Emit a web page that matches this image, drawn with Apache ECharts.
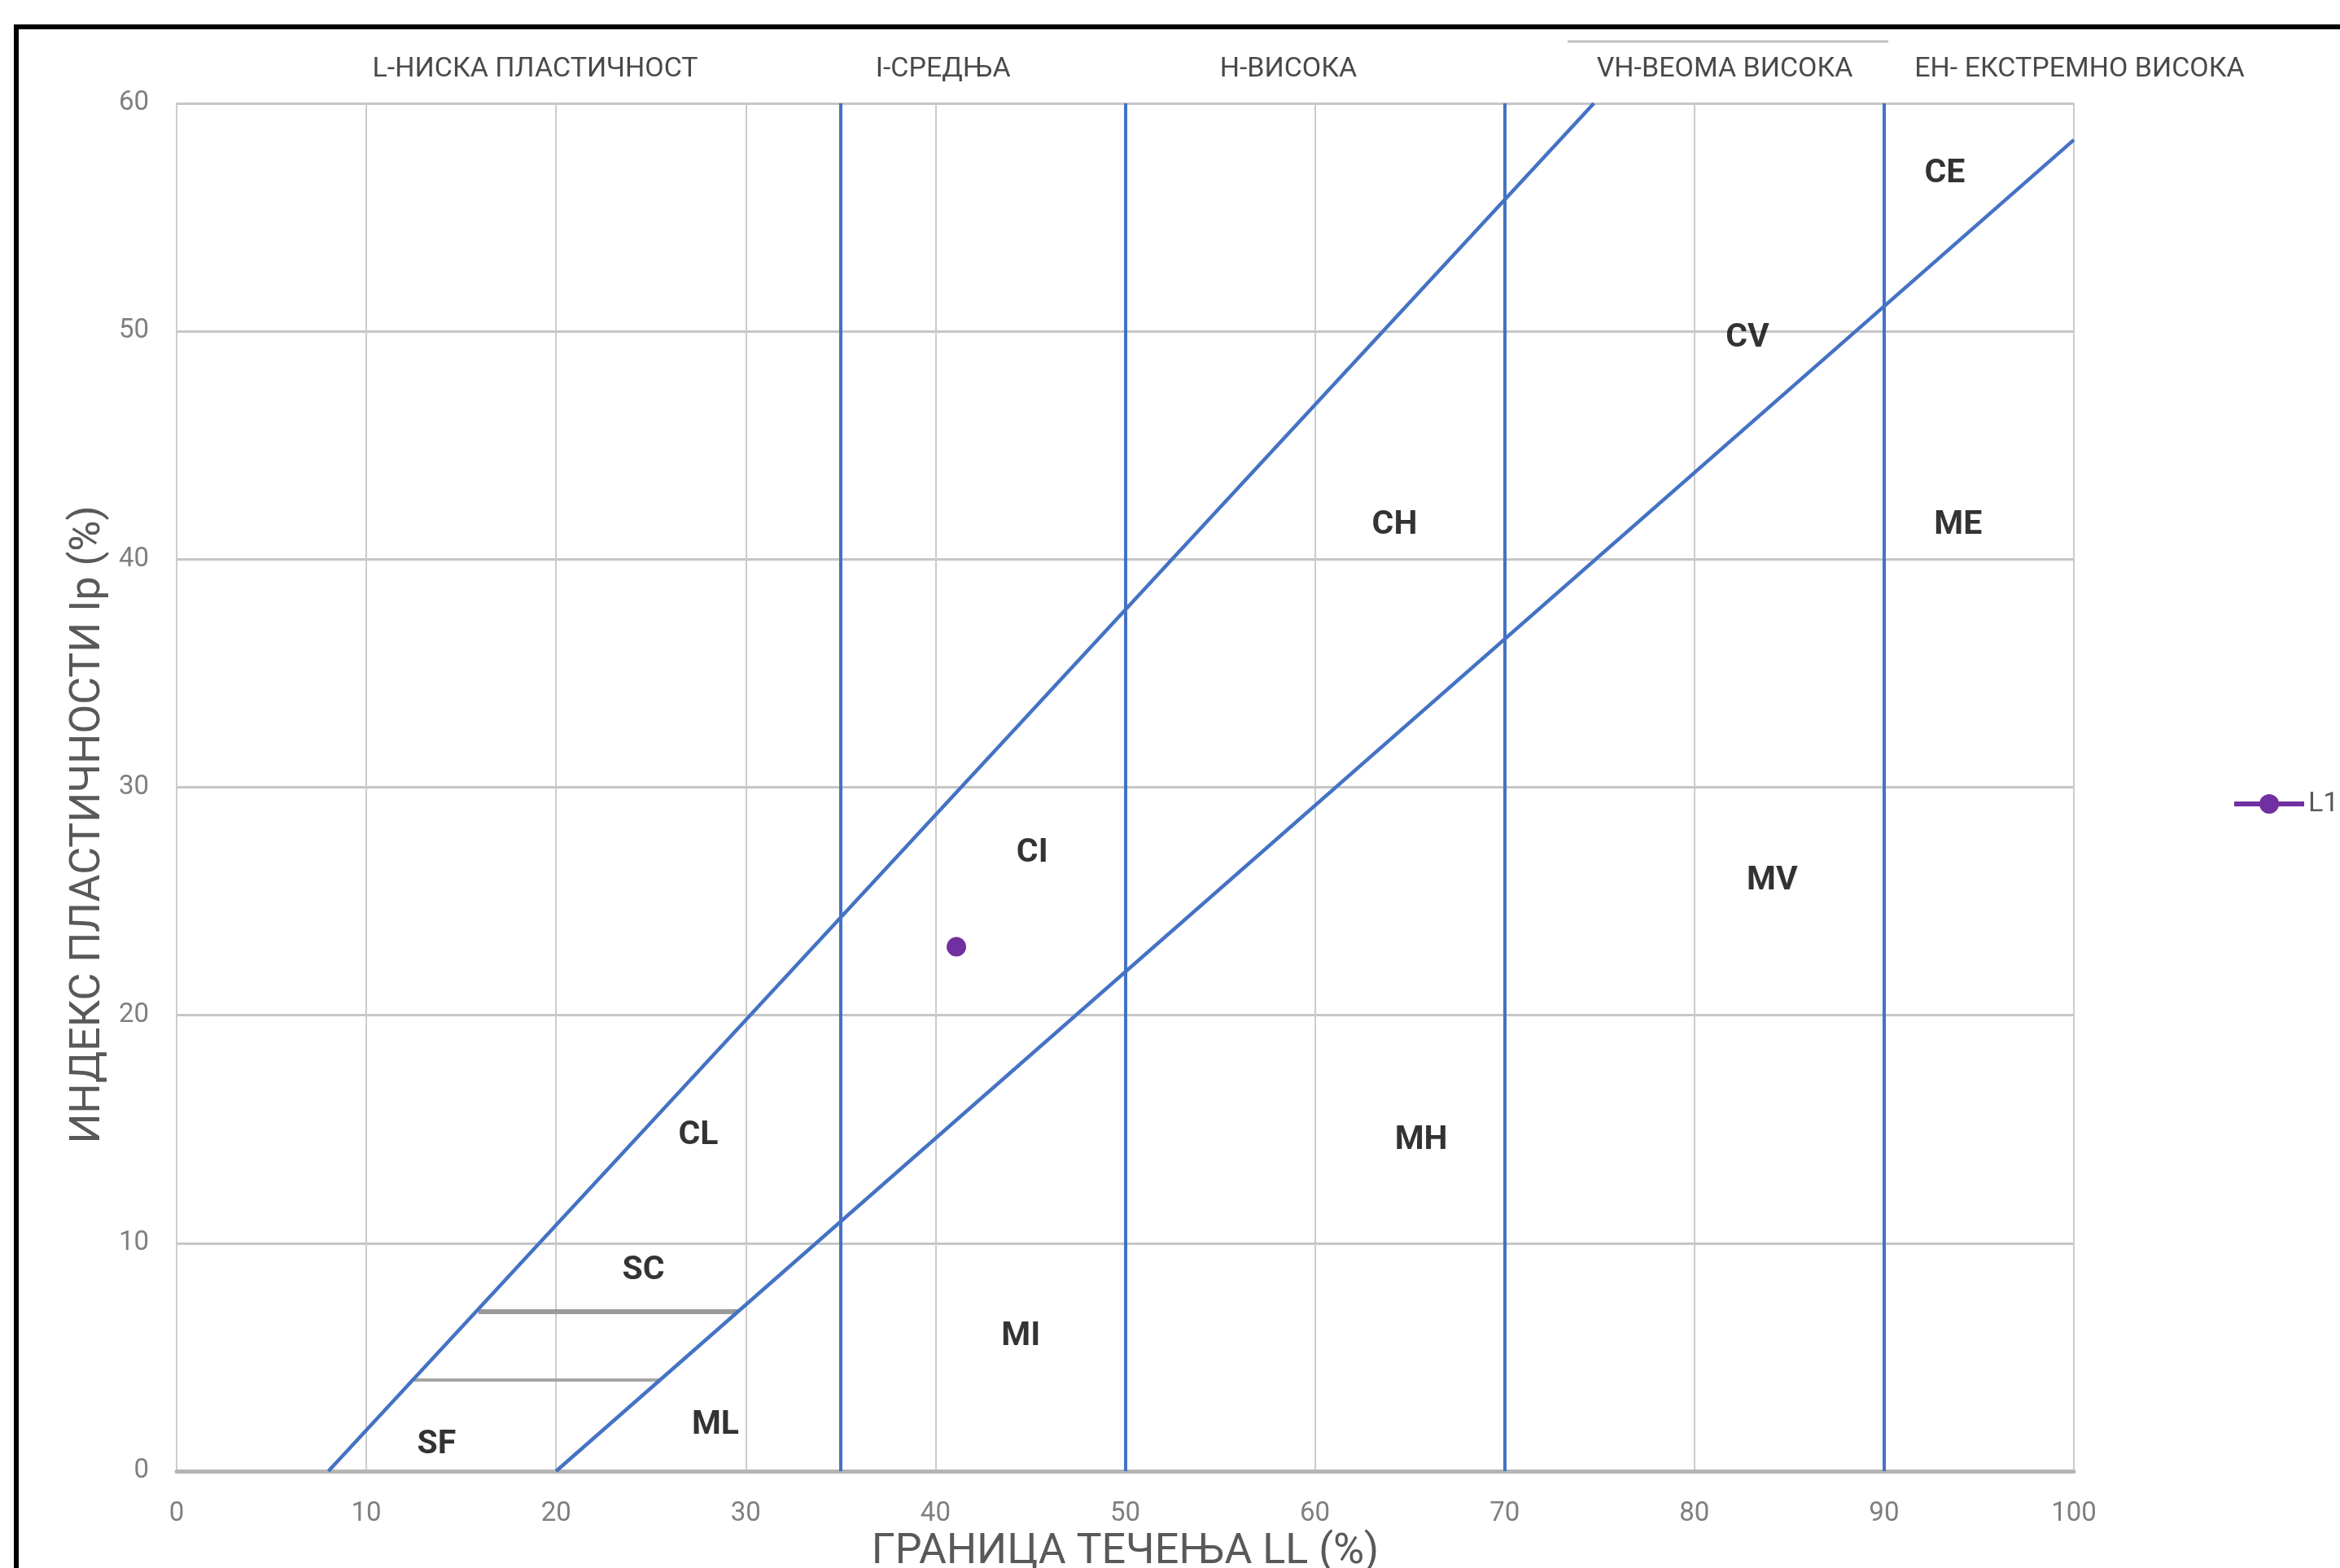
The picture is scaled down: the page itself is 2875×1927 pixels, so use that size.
<!DOCTYPE html>
<html>
<head>
<meta charset="utf-8">
<script src="https://cdn.jsdelivr.net/npm/echarts@6/dist/echarts.min.js"></script>
<style>
  html, body { margin: 0; padding: 0; background: #fff; }
  #chart { width: 2875px; height: 1927px; }
</style>
</head>
<body>
<div id="chart"></div>
<script>
// ---- Data ----
const xAxisName = 'ГРАНИЦА ТЕЧЕЊА LL (%)';
const yAxisName = 'ИНДЕКС ПЛАСТИЧНОСТИ Ip (%)';

// Boundary lines (LL, Ip)
const uLine = [[8, 0], [74.7, 60]];
const aLine = [[20, 0], [100, 58.4]];
const ip7Line = [[15.9, 7], [29.6, 7]];
const ip4Line = [[12.5, 4], [25.5, 4]];
const zoneBounds = [35, 50, 70, 90];

// Sample point
const l1Data = [[41.1, 23.0]];

// Plasticity zone names (top)
const zoneNames = ['L-НИСКА ПЛАСТИЧНОСТ', 'I-СРЕДЊА', 'H-ВИСОКА', 'VH-ВЕОМА ВИСОКА', 'EH- ЕКСТРЕМНО ВИСОКА'];
const zoneNameX = [18.9, 40.4, 58.6, 81.6, 100.3];

// Soil class labels
const soilNames = ['CL', 'SC', 'SF', 'ML', 'MI', 'CI', 'MH', 'CH', 'CV', 'MV', 'CE', 'ME'];
const soilX = [27.5, 24.6, 13.7, 28.4, 44.5, 45.1, 65.6, 64.2, 82.8, 84.1, 93.2, 93.9];
const soilY = [14.7, 8.8, 1.15, 2.0, 5.9, 27.1, 14.5, 41.5, 49.7, 25.9, 56.9, 41.5];

// ---- Chart ----
const chart = echarts.init(document.getElementById('chart'));
const BLUE = '#4472C4';
const FONT = 'Roboto';

const option = {
  animation: false,
  backgroundColor: '#ffffff',
  grid: { left: 217, right: 327, top: 127, bottom: 119, containLabel: false, outerBoundsMode: 'none' },
  legend: {
    data: ['L1'],
    left: 2737, top: 966,
    itemWidth: 86, itemHeight: 30, itemGap: 10,
    lineStyle: { width: 6 },
    textStyle: { fontFamily: FONT, fontSize: 34, color: '#595959' }
  },
  graphic: [
    { type: 'rect', z: 100, shape: { x: 20, y: 33, width: 3000, height: 3000 },
      style: { fill: 'none', stroke: '#000', lineWidth: 6 } },
    { type: 'line', z: 100, shape: { x1: 1926, y1: 51, x2: 2320, y2: 51 },
      style: { stroke: '#bfbfbf', lineWidth: 3 } }
  ],
  xAxis: {
    type: 'value', min: 0, max: 100, interval: 10,
    name: xAxisName, nameLocation: 'middle', nameGap: 70,
    nameTextStyle: { fontFamily: FONT, fontSize: 52, color: '#595959' },
    axisLine: { show: true, lineStyle: { color: '#b4b4b4', width: 5 } },
    axisTick: { show: false },
    axisLabel: { margin: 36, fontFamily: FONT, fontSize: 33, color: '#7f7f7f' },
    splitLine: { show: true, lineStyle: { color: '#cccccc', width: 2 } }
  },
  yAxis: {
    type: 'value', min: 0, max: 60, interval: 10,
    name: yAxisName, nameLocation: 'middle', nameGap: 77,
    nameTextStyle: { fontFamily: FONT, fontSize: 52, color: '#595959', padding: [0, 92, 0, 0] },
    axisLine: { show: true, lineStyle: { color: '#cccccc', width: 2 } },
    axisTick: { show: false },
    axisLabel: { margin: 34, fontFamily: FONT, fontSize: 33, color: '#7f7f7f' },
    splitLine: { show: true, lineStyle: { color: '#c6c6c6', width: 3 } }
  },
  series: [
    {
      name: 'zones', type: 'line', data: [], silent: true,
      markLine: {
        silent: true, symbol: 'none', animation: false,
        label: { show: false },
        lineStyle: { color: BLUE, width: 4, type: 'solid' },
        data: zoneBounds.map(v => ({ xAxis: v }))
      }
    },
    { name: 'U', type: 'line', data: uLine, showSymbol: false, silent: true,
      lineStyle: { color: BLUE, width: 4.5 }, z: 3 },
    { name: 'A', type: 'line', data: aLine, showSymbol: false, silent: true,
      lineStyle: { color: BLUE, width: 4.5 }, z: 3 },
    { name: 'ip7', type: 'line', data: ip7Line, showSymbol: false, silent: true,
      lineStyle: { color: '#9a9a9a', width: 6 }, z: 2 },
    { name: 'ip4', type: 'line', data: ip4Line, showSymbol: false, silent: true,
      lineStyle: { color: '#a6a6a6', width: 4 }, z: 2 },
    {
      name: 'soil', type: 'scatter', silent: true, symbolSize: 1,
      itemStyle: { color: 'transparent' },
      data: soilNames.map((n, i) => [soilX[i], soilY[i], n]),
      label: { show: true, position: 'inside', formatter: p => p.data[2],
        fontFamily: FONT, fontWeight: 'bold', fontSize: 41, color: '#000' }, z: 4
    },
    {
      name: 'zoneNames', type: 'scatter', silent: true, symbolSize: 1, clip: false,
      itemStyle: { color: 'transparent' },
      data: zoneNameX.map((x, i) => [x, 60, zoneNames[i]]),
      label: { show: true, position: 'top', distance: 24, formatter: p => p.data[2],
        fontFamily: FONT, fontSize: 34, color: '#1a1a1a' }, z: 4
    },
    {
      name: 'L1', type: 'line', data: l1Data, showSymbol: true, symbol: 'circle', symbolSize: 24,
      itemStyle: { color: '#7030A0' }, lineStyle: { color: '#7030A0', width: 6 }, z: 10
    }
  ]
};
chart.setOption(option);
</script>
</body>
</html>
